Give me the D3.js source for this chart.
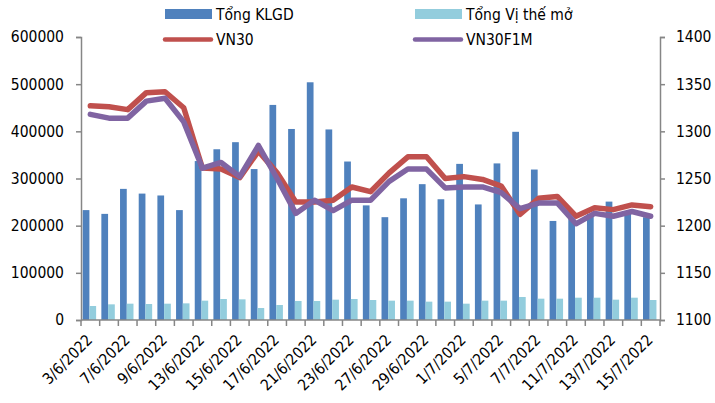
<!DOCTYPE html>
<html><head><meta charset="utf-8">
<script src="https://cdn.jsdelivr.net/npm/d3@7"></script>
<style>body{margin:0;background:#fff}svg{display:block}text{font-family:"DejaVu Sans Condensed","DejaVu Sans",sans-serif;font-size:15.5px;fill:#000}</style>
</head><body><svg id="c" width="715" height="403"></svg>
<script>
const dates = ["3/6/2022","6/6/2022","7/6/2022","8/6/2022","9/6/2022","10/6/2022","13/6/2022","14/6/2022","15/6/2022","16/6/2022","17/6/2022","20/6/2022","21/6/2022","22/6/2022","23/6/2022","24/6/2022","27/6/2022","28/6/2022","29/6/2022","30/6/2022","1/7/2022","4/7/2022","5/7/2022","6/7/2022","7/7/2022","8/7/2022","11/7/2022","12/7/2022","13/7/2022","14/7/2022","15/7/2022"];
const tongKLGD = [233000,225000,278000,268000,264000,233000,337000,362000,377000,320000,456000,405000,504000,404000,336000,243000,218000,258000,288000,256000,331000,245000,332000,399000,319000,210000,215000,225000,251000,228000,218000];
const tongViThe = [29700,33200,34600,33900,34600,35300,41000,44500,43800,25400,31800,40300,40300,43100,44500,42400,41000,41000,38900,38900,34600,41000,41000,48800,45200,45200,47300,47300,43100,47300,42400];
const vn30 = [1327,1326,1323,1341,1342,1325,1261,1260,1251,1279,1256,1225,1225,1227,1241,1236,1256,1273,1273,1250,1252,1249,1242,1212,1229,1231,1210,1219,1217,1222,1220];
const vn30f1m = [1318,1314,1314,1332,1335,1310,1261,1267,1252,1285,1250,1213,1227,1216,1227,1227,1247,1260,1260,1240,1241,1241,1235,1218,1224,1224,1202,1213,1210,1215,1210];
const leftTicks = [0,100000,200000,300000,400000,500000,600000];
const rightTicks = [1100,1150,1200,1250,1300,1350,1400];
const labelDates = dates.filter((d,i)=>i%2===0);

const svg = d3.select("#c");
const L=81, R=660, T=37, B=320;
const x = d3.scaleBand().domain(dates).range([L,R]).padding(0);
const bw = x.bandwidth();
const x1 = d3.scaleBand().domain(["kl","vt"]).range([0.09*bw,0.81*bw]).padding(0);
const yL = d3.scaleLinear().domain([0,600000]).range([B,T]);
const yR = d3.scaleLinear().domain([1100,1400]).range([B,T]);
const axisCol = "#868686";

// bars
svg.append("g").selectAll("rect").data(dates).join("rect")
  .attr("x",d=>x(d)+x1("kl")).attr("width",x1.bandwidth())
  .attr("y",(d,i)=>yL(tongKLGD[i])).attr("height",(d,i)=>B-yL(tongKLGD[i]))
  .attr("fill","#4F81BD");
svg.append("g").selectAll("rect").data(dates).join("rect")
  .attr("x",d=>x(d)+x1("vt")).attr("width",x1.bandwidth())
  .attr("y",(d,i)=>yL(tongViThe[i])).attr("height",(d,i)=>B-yL(tongViThe[i]))
  .attr("fill","#93CDDD");

// axes
const gl = svg.append("g").attr("transform",`translate(${L},0)`)
  .call(d3.axisLeft(yL).tickValues(leftTicks).tickSize(5).tickPadding(12).tickFormat(d3.format("d")));
const gr = svg.append("g").attr("transform",`translate(${R},0)`)
  .call(d3.axisRight(yR).tickValues(rightTicks).tickSize(5).tickPadding(11).tickFormat(d3.format("d")));
[gl,gr].forEach(g=>{g.select(".domain").attr("stroke",axisCol).attr("stroke-width",1.5);
  g.selectAll(".tick line").attr("stroke",axisCol).attr("stroke-width",1.5);
  g.selectAll("text").style("font-size","15.5px").attr("fill","#000");});

// bottom axis
const gb = svg.append("g").attr("transform",`translate(0,${B})`);
gb.append("line").attr("x1",L).attr("x2",R).attr("stroke",axisCol).attr("stroke-width",1.5);
const bounds = dates.map(d=>x(d)).concat([x(dates[dates.length-1])+bw]);
gb.selectAll("line.tk").data(bounds).join("line").attr("class","tk")
  .attr("x1",d=>d).attr("x2",d=>d).attr("y1",0).attr("y2",6)
  .attr("stroke",axisCol).attr("stroke-width",1.5);
gb.selectAll("text").data(labelDates).join("text")
  .attr("text-anchor","end")
  .attr("transform",d=>`translate(${x(d)+bw/2+3},${21}) rotate(-45)`)
  .text(d=>d);

// lines
const line = arr => d3.line().x((d,i)=>x(dates[i])+bw/2).y(d=>yR(d))(arr);
svg.append("path").attr("d",line(vn30)).attr("fill","none").attr("stroke","#C0504D")
  .attr("stroke-width",5.5).attr("stroke-linejoin","round").attr("stroke-linecap","round");
svg.append("path").attr("d",line(vn30f1m)).attr("fill","none").attr("stroke","#8064A2")
  .attr("stroke-width",5.5).attr("stroke-linejoin","round").attr("stroke-linecap","round");

// legend
const lg = svg.append("g");
lg.append("rect").attr("x",165).attr("y",9).attr("width",47).attr("height",10).attr("fill","#4F81BD");
lg.append("text").attr("x",216).attr("y",19.5).text("Tổng KLGD");
lg.append("rect").attr("x",415).attr("y",9).attr("width",47).attr("height",10).attr("fill","#93CDDD");
lg.append("text").attr("x",466).attr("y",19.5).text("Tổng Vị thế mở");
lg.append("line").attr("x1",165).attr("x2",211).attr("y1",39.5).attr("y2",39.5)
  .attr("stroke","#C0504D").attr("stroke-width",4.5).attr("stroke-linecap","round");
lg.append("text").attr("x",216).attr("y",45).text("VN30");
lg.append("line").attr("x1",415).attr("x2",461).attr("y1",39.5).attr("y2",39.5)
  .attr("stroke","#8064A2").attr("stroke-width",4.5).attr("stroke-linecap","round");
lg.append("text").attr("x",466).attr("y",45).text("VN30F1M");
</script></body></html>
